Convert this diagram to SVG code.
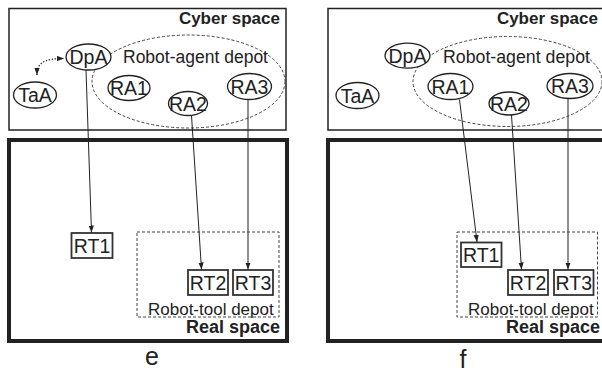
<svg xmlns="http://www.w3.org/2000/svg" width="602" height="375" viewBox="0 0 602 375">
<defs>
<marker id="ah" viewBox="0 0 8 6" refX="8" refY="3" markerWidth="7" markerHeight="5.5" orient="auto-start-reverse" markerUnits="userSpaceOnUse"><path d="M0,0 L8,3 L0,6 z" fill="#222"/></marker>
<style>
.cy{fill:#fff;stroke:#222;stroke-width:1.5}
.rs{fill:#fff;stroke:#222;stroke-width:4}
.nd{fill:#fff;stroke:#222;stroke-width:1.3}
.rt{fill:#fff;stroke:#333;stroke-width:1.8}
.dep{fill:none;stroke:#444;stroke-width:1;stroke-dasharray:3 2}
.lb{font-family:"Liberation Sans",Arial,sans-serif;font-size:19.5px;fill:#222;text-anchor:middle}
.tt{font-family:"Liberation Sans",Arial,sans-serif;font-size:17.5px;fill:#222}
.bt{font-family:"Liberation Sans",Arial,sans-serif;font-size:17px;font-weight:bold;fill:#222;text-anchor:end}
.cap{font-family:"Liberation Sans",Arial,sans-serif;font-size:25px;fill:#222;text-anchor:middle}
.cn{stroke:#222;stroke-width:1;fill:none;marker-end:url(#ah)}
</style>
</defs>
<rect width="602" height="375" fill="#fff"/>
<!-- Panel e -->
<g id="panel-e">
<g id="e-cyber"><rect class="cy" x="9" y="8.5" width="277" height="121.5"/><text class="bt" x="280" y="24">Cyber space</text></g>
<g id="e-real"><rect class="rs" x="9" y="140" width="278" height="201"/><text class="bt" x="280" y="333" style="font-size:18px">Real space</text></g>
<g id="e-agent-depot"><ellipse class="dep" cx="188.5" cy="81.5" rx="96.5" ry="46.5"/><text class="tt" x="123" y="63">Robot-agent depot</text></g>
<g id="e-tool-depot"><rect class="dep" x="137" y="232" width="142" height="85"/><text class="tt" x="148" y="315" style="font-size:17px">Robot-tool depot</text></g>
<g id="e-TaA"><ellipse class="nd" cx="35" cy="95" rx="21.5" ry="13"/><text class="lb" x="35" y="102">TaA</text></g>
<g id="e-DpA"><ellipse class="nd" cx="88.5" cy="57" rx="22.5" ry="13"/><text class="lb" x="88.5" y="64">DpA</text></g>
<g id="e-RA1"><ellipse class="nd" cx="129" cy="88" rx="21" ry="12.5"/><text class="lb" x="129" y="95">RA1</text></g>
<g id="e-RA2"><ellipse class="nd" cx="188" cy="103.5" rx="19.5" ry="12"/><text class="lb" x="188" y="110.5">RA2</text></g>
<g id="e-RA3"><ellipse class="nd" cx="249.5" cy="86.5" rx="22" ry="13"/><text class="lb" x="249.5" y="93.5">RA3</text></g>
<g id="e-RT1"><rect class="rt" x="71.5" y="233" width="41" height="25"/><text class="lb" x="92" y="252.5">RT1</text></g>
<g id="e-RT2"><rect class="rt" x="188" y="270" width="40" height="25"/><text class="lb" x="208" y="289.5">RT2</text></g>
<g id="e-RT3"><rect class="rt" x="233" y="270" width="40" height="25"/><text class="lb" x="253" y="289.5">RT3</text></g>
<text class="cap" x="152" y="365">e</text>
</g>
<!-- Panel f -->
<g id="panel-f">
<g id="f-cyber"><rect class="cy" x="328" y="8.5" width="280" height="121.5"/><text class="bt" x="598" y="24">Cyber space</text></g>
<g id="f-real"><rect class="rs" x="328" y="140" width="280" height="201"/><text class="bt" x="600" y="333" style="font-size:18px">Real space</text></g>
<g id="f-agent-depot"><ellipse class="dep" cx="507.5" cy="81.5" rx="94.5" ry="45"/><text class="tt" x="443" y="63" textLength="147" lengthAdjust="spacingAndGlyphs">Robot-agent depot</text></g>
<g id="f-tool-depot"><rect class="dep" x="457" y="232" width="140.5" height="85"/><text class="tt" x="468" y="315" style="font-size:17px">Robot-tool depot</text></g>
<g id="f-TaA"><ellipse class="nd" cx="357.5" cy="95.5" rx="21.5" ry="13"/><text class="lb" x="357.5" y="102.5">TaA</text></g>
<g id="f-DpA"><ellipse class="nd" cx="407.5" cy="55.7" rx="22.5" ry="12.5"/><text class="lb" x="407.5" y="62.7">DpA</text></g>
<g id="f-RA1"><ellipse class="nd" cx="450.5" cy="86.5" rx="22.5" ry="13"/><text class="lb" x="450.5" y="93.5">RA1</text></g>
<g id="f-RA2"><ellipse class="nd" cx="509" cy="103.5" rx="20" ry="11.5"/><text class="lb" x="509" y="110.5">RA2</text></g>
<g id="f-RA3"><ellipse class="nd" cx="570" cy="86" rx="23" ry="12.5"/><text class="lb" x="570" y="93">RA3</text></g>
<g id="f-RT1"><rect class="rt" x="461" y="242.5" width="40.5" height="24.5"/><text class="lb" x="481.2" y="261.7">RT1</text></g>
<g id="f-RT2"><rect class="rt" x="508" y="270" width="40" height="25"/><text class="lb" x="528" y="289.5">RT2</text></g>
<g id="f-RT3"><rect class="rt" x="554" y="270" width="39.5" height="25"/><text class="lb" x="573.8" y="289.5">RT3</text></g>
<text class="cap" x="463" y="368">f</text>
</g>
<g id="connectors">
<path class="cn" d="M86 70 L91.5 232.5"/>
<path class="cn" d="M191.5 115.5 L201.5 269.5"/>
<path class="cn" d="M248 99.5 L248 269.5"/>
<path d="M37 75 C37 63 44 58.5 64 58.5" fill="none" stroke="#222" stroke-width="1.3" stroke-dasharray="1.3 1.7" marker-start="url(#ah)" marker-end="url(#ah)"/>
<path class="cn" d="M459.5 99.5 L477 242"/>
<path class="cn" d="M511.5 115 L521.5 269.5"/>
<path class="cn" d="M568 98.5 L568 269.5"/>
</g>
</svg>
